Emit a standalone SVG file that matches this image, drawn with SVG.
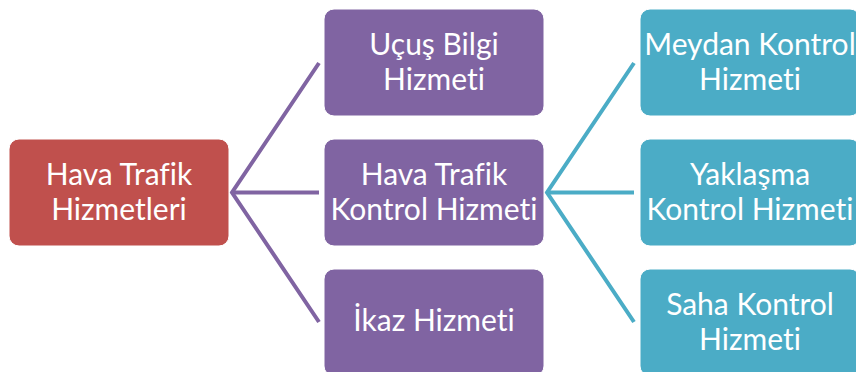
<svg xmlns="http://www.w3.org/2000/svg" width="856" height="372" viewBox="0 0 856 372">
  <style>
    .box { stroke: #ffffff; stroke-width: 1; }
    .red { fill: #C0504D; }
    .purple { fill: #8064A2; }
    .teal { fill: #4BACC6; }
    .lbl { font-family: Lato, "Open Sans", "Liberation Sans", sans-serif; font-size: 30px; fill: #ffffff; text-anchor: middle; font-variant-ligatures: none; font-feature-settings: "liga" 0, "clig" 0; }
    .lnP { stroke: #8064A2; stroke-width: 4; fill: none; stroke-linejoin: miter; }
    .lnT { stroke: #4BACC6; stroke-width: 4; fill: none; stroke-linejoin: miter; }
  </style>
  <rect width="856" height="372" fill="#ffffff"/>

  <g id="connectors">
    <path class="lnP" d="M319,63 L232,192.5 L319,322"/>
    <path class="lnP" d="M232,192.5 L319,192.5"/>
    <path class="lnT" d="M634,63 L547,192.5 L634,322"/>
    <path class="lnT" d="M547,192.5 L634,192.5"/>
  </g>

  <g id="hava-trafik-hizmetleri">
    <rect class="box red" x="9" y="139" width="220" height="107" rx="10"/>
    <text class="lbl" x="119" y="185">Hava Trafik</text>
    <text class="lbl" x="119" y="219.5">Hizmetleri</text>
  </g>

  <g id="ucus-bilgi-hizmeti">
    <rect class="box purple" x="324" y="9" width="220" height="107" rx="10"/>
    <text class="lbl" x="434" y="55">Uçuş Bilgi</text>
    <text class="lbl" x="434" y="89.5">Hizmeti</text>
  </g>

  <g id="hava-trafik-kontrol-hizmeti">
    <rect class="box purple" x="324" y="139" width="220" height="107" rx="10"/>
    <text class="lbl" x="434" y="185">Hava Trafik</text>
    <text class="lbl" x="434" y="219.5">Kontrol Hizmeti</text>
  </g>

  <g id="ikaz-hizmeti">
    <rect class="box purple" x="324" y="269" width="220" height="107" rx="10"/>
    <text class="lbl" x="434" y="331">İkaz Hizmeti</text>
  </g>

  <g id="meydan-kontrol-hizmeti">
    <rect class="box teal" x="640" y="9" width="220" height="107" rx="10"/>
    <text class="lbl" x="750" y="55">Meydan Kontrol</text>
    <text class="lbl" x="750" y="89.5">Hizmeti</text>
  </g>

  <g id="yaklasma-kontrol-hizmeti">
    <rect class="box teal" x="640" y="139" width="220" height="107" rx="10"/>
    <text class="lbl" x="750" y="185">Yaklaşma</text>
    <text class="lbl" x="750" y="219.5">Kontrol Hizmeti</text>
  </g>

  <g id="saha-kontrol-hizmeti">
    <rect class="box teal" x="640" y="269" width="220" height="107" rx="10"/>
    <text class="lbl" x="750" y="315">Saha Kontrol</text>
    <text class="lbl" x="750" y="349.5">Hizmeti</text>
  </g>
</svg>
